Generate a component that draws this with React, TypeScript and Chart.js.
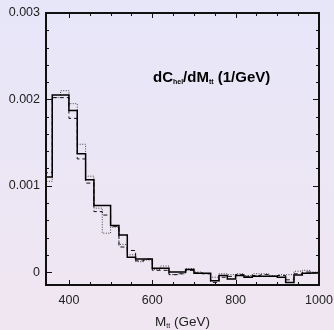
import React, { useEffect, useRef } from 'react';
import { Chart, registerables } from 'chart.js';

Chart.register(...registerables);

// Bin edges (GeV), 20 GeV bins
const BIN_EDGES = [
  340, 360, 380, 400, 420, 440, 460, 480, 500, 520, 540, 560, 580, 600, 620, 640, 660,
  680, 700, 720, 740, 760, 780, 800, 820, 840, 860, 880, 900, 920, 940, 960, 980, 1000,
];

// dC_hel/dM_tt per bin (1/GeV)
const SOLID = [
  0.00110, 0.00205, 0.00205, 0.00187, 0.00137, 0.00107, 0.00077, 0.00077, 0.00054, 0.00043,
  0.00017, 0.00015, 0.00015, 0.000045, 0.000045, 0.0, 0.0, 0.00003, -0.000015, -0.000015,
  -0.0001, -0.00004, -0.00008, -0.00004, -0.00006, -0.00005, -0.00005, -0.00005, -0.00006,
  -0.00012, -0.000035, -0.000015, -0.00001,
];
const DASHED = [
  0.00115, 0.00202, 0.00202, 0.00178, 0.00131, 0.00103, 0.0007, 0.00066, 0.00053, 0.00029,
  0.00025, 0.00013, 0.00015, 0.00002, 0.00002, -0.00003, -0.00002, 0.00002, -0.00001, -0.00002,
  -0.00012, -0.00006, -0.00005, -0.00003, -0.00005, -0.00004, -0.00003, -0.00005, -0.00004,
  -0.00009, -0.00002, 0.0, -0.00001,
];
const DOTTED = [
  0.00105, 0.00202, 0.0021, 0.00195, 0.00148, 0.00111, 0.00074, 0.00045, 0.00052, 0.00032,
  0.0002, 0.00012, 0.00014, 0.00003, 0.00007, -0.00003, -0.00002, 0.00004, 0.0, -0.00002,
  -0.00006, -0.00002, -0.00003, -0.00002, -0.00004, -0.00002, -0.00002, -0.00004, -0.00003,
  -0.00003, 0.00001, 0.00002, 0.0,
];

const X_MAJOR = [400, 600, 800, 1000];
const X_LABELS = ['400', '600', '800', '1000'];
const X_MINOR = [450, 500, 550, 650, 700, 750, 850, 900, 950];
const Y_MAJOR = [0, 0.001, 0.002, 0.003];
const Y_LABELS = ['0', '0.001', '0.002', '0.003'];
const Y_MINOR = [
  0.0002, 0.0004, 0.0006, 0.0008, 0.0012, 0.0014, 0.0016, 0.0018, 0.0022, 0.0024, 0.0026, 0.0028,
];

const X_MIN = 345;
const X_MAX = 1000;
const Y_MIN = -0.00015;
const Y_MAX = 0.003;

function toSteps(vals: number[]) {
  return BIN_EDGES.map((e, i) => ({ x: e, y: i < vals.length ? vals[i] : vals[vals.length - 1] }));
}

type Part = { t: string; sub?: boolean };

function drawParts(ctx: CanvasRenderingContext2D, parts: Part[], x: number, y: number, big: string, small: string, subDy: number, align: 'left' | 'center') {
  let total = 0;
  for (const p of parts) {
    ctx.font = p.sub ? small : big;
    total += ctx.measureText(p.t).width;
  }
  let cx = align === 'center' ? x - total / 2 : x;
  ctx.textAlign = 'left';
  ctx.textBaseline = 'alphabetic';
  for (const p of parts) {
    ctx.font = p.sub ? small : big;
    ctx.fillText(p.t, cx, p.sub ? y + subDy : y);
    cx += ctx.measureText(p.t).width;
  }
}

const decor = {
  id: 'decor',
  afterDatasetsDraw(chart: any) {
    const { ctx, chartArea: a, scales } = chart;
    const xs = scales.x;
    const ys = scales.y;
    ctx.save();
    ctx.strokeStyle = '#111';
    ctx.lineWidth = 1;
    ctx.beginPath();
    const xt = (v: number, len: number) => {
      const p = Math.round(xs.getPixelForValue(v)) + 0.5;
      ctx.moveTo(p, a.bottom);
      ctx.lineTo(p, a.bottom - len);
      ctx.moveTo(p, a.top);
      ctx.lineTo(p, a.top + len);
    };
    const yt = (v: number, len: number) => {
      const p = Math.round(ys.getPixelForValue(v)) + 0.5;
      ctx.moveTo(a.left, p);
      ctx.lineTo(a.left + len, p);
      ctx.moveTo(a.right, p);
      ctx.lineTo(a.right - len, p);
    };
    X_MAJOR.forEach((v) => xt(v, 5));
    X_MINOR.forEach((v) => xt(v, 3));
    Y_MAJOR.forEach((v) => yt(v, 6));
    Y_MINOR.forEach((v) => yt(v, 3));
    ctx.stroke();
    ctx.lineWidth = 2;
    ctx.strokeRect(a.left, a.top, a.right - a.left, a.bottom - a.top);

    // annotation
    ctx.fillStyle = '#000';
    drawParts(
      ctx,
      [{ t: 'dC' }, { t: 'hel', sub: true }, { t: '/dM' }, { t: 'tt', sub: true }, { t: ' (1/GeV)' }],
      a.left + 107,
      a.top + 69,
      'bold 15px "Liberation Sans", Arial, sans-serif',
      'bold 7px "Liberation Sans", Arial, sans-serif',
      2,
      'left'
    );
    // x title
    ctx.fillStyle = '#222';
    drawParts(
      ctx,
      [{ t: 'M' }, { t: 'tt', sub: true }, { t: ' (GeV)' }],
      (a.left + a.right) / 2,
      a.bottom + 41,
      '13.5px "Liberation Sans", Arial, sans-serif',
      '7px "Liberation Sans", Arial, sans-serif',
      2,
      'center'
    );
    ctx.restore();
  },
};

export default function App() {
  const ref = useRef<HTMLCanvasElement>(null);
  useEffect(() => {
    if (!ref.current) return;
    const common = { pointRadius: 0, stepped: 'before' as const, fill: false, tension: 0 };
    const chart = new Chart(ref.current, {
      type: 'line',
      data: {
        datasets: [
          { ...common, data: toSteps(SOLID), borderColor: '#000', borderWidth: 1.5 },
          { ...common, data: toSteps(DASHED), borderColor: '#111', borderWidth: 1, borderDash: [4, 3] },
          { ...common, data: toSteps(DOTTED), borderColor: '#444', borderWidth: 1, borderDash: [1, 1.5] },
        ],
      },
      options: {
        animation: false,
        responsive: false,
        devicePixelRatio: 1,
        layout: { padding: { top: 13, right: 15, left: 0, bottom: 0 } },
        plugins: { legend: { display: false }, tooltip: { enabled: false } },
        scales: {
          x: {
            type: 'linear',
            min: X_MIN,
            max: X_MAX,
            grid: { display: false, drawTicks: false },
            border: { display: false },
            afterBuildTicks: (s: any) => {
              s.ticks = X_MAJOR.map((v) => ({ value: v }));
            },
            afterFit: (s: any) => {
              s.height = 45;
              s.paddingLeft = 0;
              s.paddingRight = 0;
            },
            ticks: {
              padding: 8,
              color: '#222',
              font: { family: '"Liberation Sans", Arial, sans-serif', size: 12.5 },
              maxRotation: 0,
              autoSkip: false,
              callback: (v: any) => X_LABELS[X_MAJOR.indexOf(Number(v))] ?? '',
            },
          },
          y: {
            type: 'linear',
            min: Y_MIN,
            max: Y_MAX,
            grid: { display: false, drawTicks: false },
            border: { display: false },
            afterBuildTicks: (s: any) => {
              s.ticks = Y_MAJOR.map((v) => ({ value: v }));
            },
            afterFit: (s: any) => {
              s.width = 46;
              s.paddingTop = 0;
              s.paddingBottom = 0;
            },
            ticks: {
              padding: 6,
              color: '#222',
              font: { family: '"Liberation Sans", Arial, sans-serif', size: 12.5 },
              autoSkip: false,
              callback: (v: any) => {
                const i = Y_MAJOR.findIndex((m) => Math.abs(m - Number(v)) < 1e-9);
                return i >= 0 ? Y_LABELS[i] : '';
              },
            },
          },
        },
      },
      plugins: [decor],
    });
    return () => chart.destroy();
  }, []);

  return (
    <div
      style={{
        position: 'fixed',
        left: 0,
        top: 0,
        width: 334,
        height: 330,
        background: 'linear-gradient(to bottom, #e7e6f9, #f0e6f1)',
      }}
    >
      <canvas ref={ref} width={334} height={330} style={{ display: 'block', width: 334, height: 330 }} />
    </div>
  );
}
